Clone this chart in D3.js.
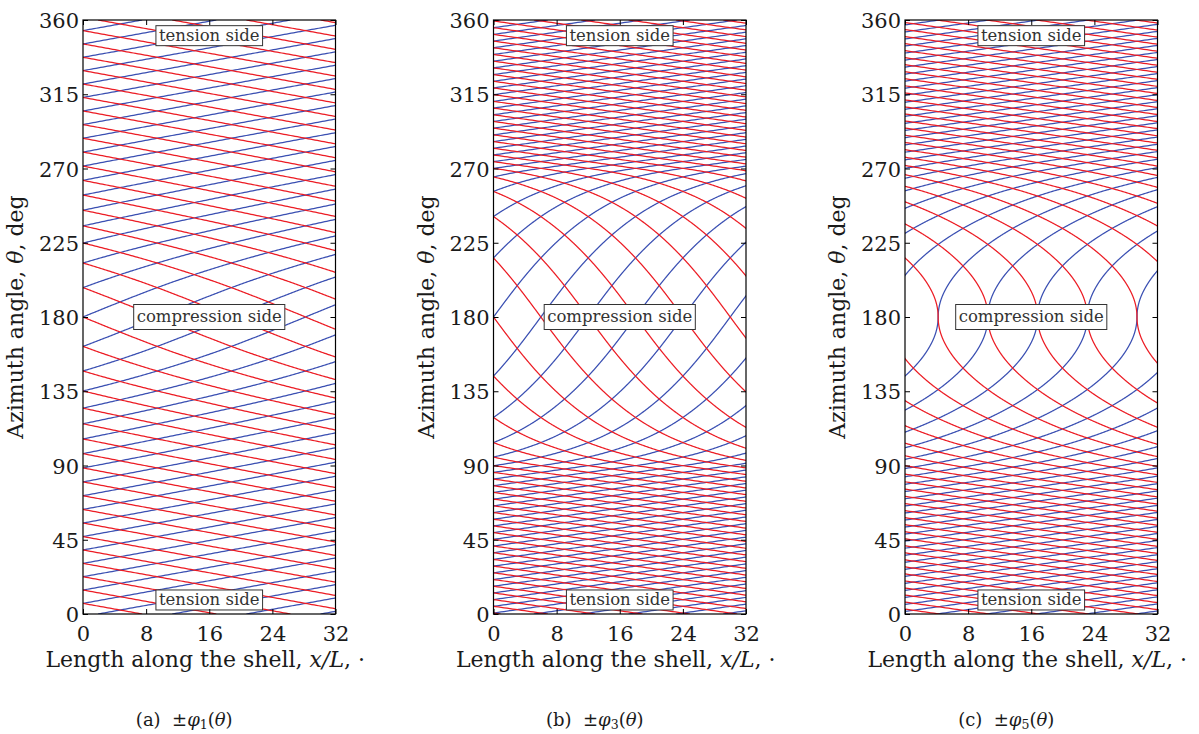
<!DOCTYPE html>
<html><head><meta charset="utf-8">
<script src="https://cdn.jsdelivr.net/npm/d3@7"></script>
<style>
body{margin:0;background:#fff;}
svg text{font-family:"DejaVu Serif",serif;fill:#1a1a1a;}
</style></head><body>
<svg id="chart" width="1199" height="734"></svg>
<script>
// ---------------- data ----------------
const thetaTicks = [0, 45, 90, 135, 180, 225, 270, 315, 360];
const xTicks = [0, 8, 16, 24, 32];
const panelLetters = ["a", "b", "c"];
const panelIndex = ["1", "3", "5"];
// fiber angle (deg) versus distance |theta-180| from the compression side (deg)
const distFromCompression = [0, 15, 30, 45, 60, 70, 80, 90, 100, 120, 140, 160, 180];
const fiberAngleA = [32, 30, 25, 20, 17.5, 17, 16.5, 16, 15.7, 15.4, 15.2, 15.1, 15.1];
const fiberAngleB = [64, 63, 60, 55, 47, 38, 26, 12, 12, 12, 12, 12, 12];
const fiberAngleC = [90, 72, 58, 47, 36, 29, 21, 15, 12.5, 12, 12, 12, 12];
const pathSpacing = [9.4, 6.0, 6.3];      // distance between adjacent tow paths along x/L
const pathPhase = [0, 0, 4.2];            // x/L where a path crosses theta = 180
const shellRadius = 18;                   // in x/L units
const sideLabels = ["tension side", "compression side", "tension side"];
const sideLabelTheta = [350.5, 180, 8.5];

// ---------------- layout ----------------
const plotLeft = [83, 493.5, 905];
const plotWidth = 252.5;
const plotTop = 20, plotBottom = 614;
const blue = "#3a4fb2", red = "#ec1c24";

const svg = d3.select("#chart");
const fiberAngles = [fiberAngleA, fiberAngleB, fiberAngleC];

function buildShape(phiArr) {
  const phiAt = d3.scaleLinear().domain(distFromCompression).range(phiArr);
  const step = 0.25;
  const n = Math.round(360 / step);
  const th = d3.range(n + 1).map(i => i * step);
  const X = new Array(n + 1).fill(0);
  const K = shellRadius * Math.PI / 180;
  const dxdth = t => { const p = phiAt(Math.abs(t - 180)) * Math.PI / 180; return K * Math.cos(p) / Math.sin(p); };
  const mid = n / 2;
  for (let i = mid + 1; i <= n; i++) X[i] = X[i - 1] + step * dxdth(th[i] - step / 2);
  for (let i = mid - 1; i >= 0; i--) X[i] = X[i + 1] - step * dxdth(th[i] + step / 2);
  return { th, X };
}

panelLetters.forEach((letter, pi) => {
  const x0 = plotLeft[pi];
  const xs = d3.scaleLinear().domain([0, 32]).range([x0, x0 + plotWidth]);
  const ys = d3.scaleLinear().domain([0, 360]).range([plotBottom, plotTop]);
  const g = svg.append("g");
  const clipId = "clip" + letter;
  svg.append("clipPath").attr("id", clipId).append("rect")
    .attr("x", x0).attr("y", plotTop).attr("width", plotWidth).attr("height", plotBottom - plotTop);

  const { th, X } = buildShape(fiberAngles[pi]);
  const Xmin = d3.min(X), Xmax = d3.max(X);
  const dx = pathSpacing[pi], ph = pathPhase[pi];
  const kLo = Math.floor((0 - Xmax - ph) / dx) - 1;
  const kHi = Math.ceil((32 - Xmin - ph) / dx) + 1;
  const line = d3.line().x(d => xs(d[0])).y(d => ys(d[1]));

  function pathPoints(sign, k) {
    const pts = [];
    for (let i = 0; i < th.length; i++) {
      const x = sign * X[i] + ph + k * dx;
      if (x >= -1.5 && x <= 33.5) pts.push([x, th[i]]);
    }
    return pts;
  }
  const lg = g.append("g").attr("clip-path", `url(#${clipId})`);
  const blues = [], reds = [];
  for (let k = kLo; k <= kHi; k++) {
    const b = pathPoints(1, k); if (b.length > 1) blues.push(b);
    const r = pathPoints(-1, k); if (r.length > 1) reds.push(r);
  }
  lg.selectAll("path.b").data(blues).join("path").attr("class", "b")
    .attr("d", line).attr("fill", "none").attr("stroke", blue).attr("stroke-width", 1.25);
  lg.selectAll("path.r").data(reds).join("path").attr("class", "r")
    .attr("d", line).attr("fill", "none").attr("stroke", red).attr("stroke-width", 1.25);

  // side labels
  sideLabels.forEach((t, li) => {
    const tx = g.append("text").attr("x", xs(16)).attr("y", ys(sideLabelTheta[li]))
      .attr("text-anchor", "middle").attr("dy", "0.33em")
      .style("font-size", "16.5px").style("fill", "#333").text(t);
    const bb = tx.node().getBBox();
    g.insert("rect", () => tx.node())
      .attr("x", bb.x - 3).attr("y", ys(sideLabelTheta[li]) - (li === 1 ? 12.5 : 10))
      .attr("width", bb.width + 6).attr("height", li === 1 ? 25 : 20)
      .attr("fill", "#fff").attr("stroke", "#333").attr("stroke-width", 1);
  });

  // frame & axes
  g.append("rect").attr("x", x0).attr("y", plotTop).attr("width", plotWidth)
    .attr("height", plotBottom - plotTop).attr("fill", "none").attr("stroke", "#000").attr("stroke-width", 1.2);

  const styleAxis = sel => { sel.select(".domain").remove(); sel.selectAll("line").attr("stroke", "#000"); };
  g.append("g").attr("transform", `translate(${x0},0)`)
    .call(d3.axisLeft(ys).tickValues(thetaTicks).tickSizeInner(-5).tickSizeOuter(0).tickPadding(4))
    .call(styleAxis)
    .call(s => s.selectAll("text").style("font-size", "21px").attr("dy", "0.36em").attr("font-family", null));
  g.append("g").attr("transform", `translate(${x0 + plotWidth},0)`)
    .call(d3.axisRight(ys).tickValues(thetaTicks).tickSizeInner(-5).tickSizeOuter(0).tickFormat(""))
    .call(styleAxis);
  g.append("g").attr("transform", `translate(0,${plotBottom})`)
    .call(d3.axisBottom(xs).tickValues(xTicks).tickSizeInner(-5).tickSizeOuter(0).tickPadding(12.5))
    .call(styleAxis)
    .call(s => s.selectAll("text").style("font-size", "21px").attr("font-family", null));
  g.append("g").attr("transform", `translate(0,${plotTop})`)
    .call(d3.axisTop(xs).tickValues(xTicks).tickSizeInner(-5).tickSizeOuter(0).tickFormat(""))
    .call(styleAxis);
  g.selectAll(".tick text").style("fill", "#1a1a1a");

  // axis titles
  const xl = g.append("text").attr("x", x0 + plotWidth / 2 - 4).attr("y", 667)
    .attr("text-anchor", "middle").style("font-size", "22px");
  xl.append("tspan").text("Length along the shell, ");
  xl.append("tspan").style("font-style", "italic").text("x/L");
  xl.append("tspan").text(", ·");

  const yl = g.append("text")
    .attr("transform", `translate(${x0 - 60},317) rotate(-90)`)
    .attr("text-anchor", "middle").style("font-size", "22px");
  yl.append("tspan").text("Azimuth angle, ");
  yl.append("tspan").style("font-style", "italic").text("θ");
  yl.append("tspan").text(", deg");

  // caption
  const cap = g.append("text").attr("x", x0 + plotWidth / 2 - 25).attr("y", 726)
    .attr("text-anchor", "middle").style("font-size", "18px").attr("xml:space", "preserve");
  cap.append("tspan").text("(" + letter + ")  ±");
  cap.append("tspan").style("font-style", "italic").text("φ");
  cap.append("tspan").attr("baseline-shift", "-25%").style("font-size", "12.5px").text(panelIndex[pi]);
  cap.append("tspan").text("(");
  cap.append("tspan").style("font-style", "italic").text("θ");
  cap.append("tspan").text(")");
});
</script>
</body></html>
